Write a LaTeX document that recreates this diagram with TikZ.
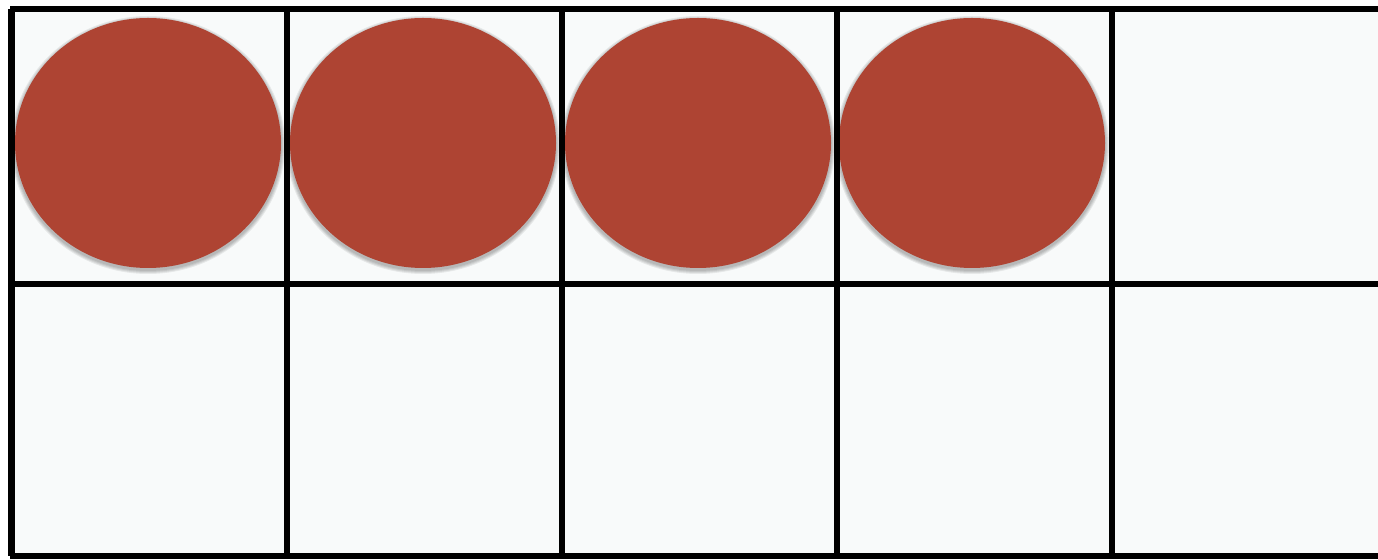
\documentclass[tikz,border=0pt]{standalone}
\definecolor{counter}{HTML}{AE4433}
\definecolor{cellbg}{HTML}{F8FAFA}
\tikzset{
  gridline/.style={line width=3.3pt, black},
  counterdisc/.style={fill=counter, draw=none},
  softshadow/.style={fill=black, opacity=0.07, draw=none},
}
\begin{document}
\begin{tikzpicture}[x=0.5pt,y=-0.5pt]
\useasboundingbox (0,0) rectangle (1378,560);
\fill[white] (0,0) rectangle (1378,560);
\fill[cellbg] (11,9) rectangle (1378,556);
% circles
\foreach \cx/\n in {148/a,423/b,698/c,972/d}{
  \foreach \r in {1,2,3,4}{
    \path[softshadow] (\cx,145) ellipse [x radius=133+\r, y radius=125+\r];
  }
  \path[counterdisc] (\cx,143) ellipse [x radius=133, y radius=125];
  \coordinate (\n) at (\cx,143);
}
% grid
\foreach \x in {11.5,287,562,837,1112}{
  \draw[gridline] (\x,9) -- (\x,556);
}
\foreach \y in {9,284,556}{
  \draw[gridline] (10,\y) -- (1378,\y);
}
\end{tikzpicture}
\end{document}
